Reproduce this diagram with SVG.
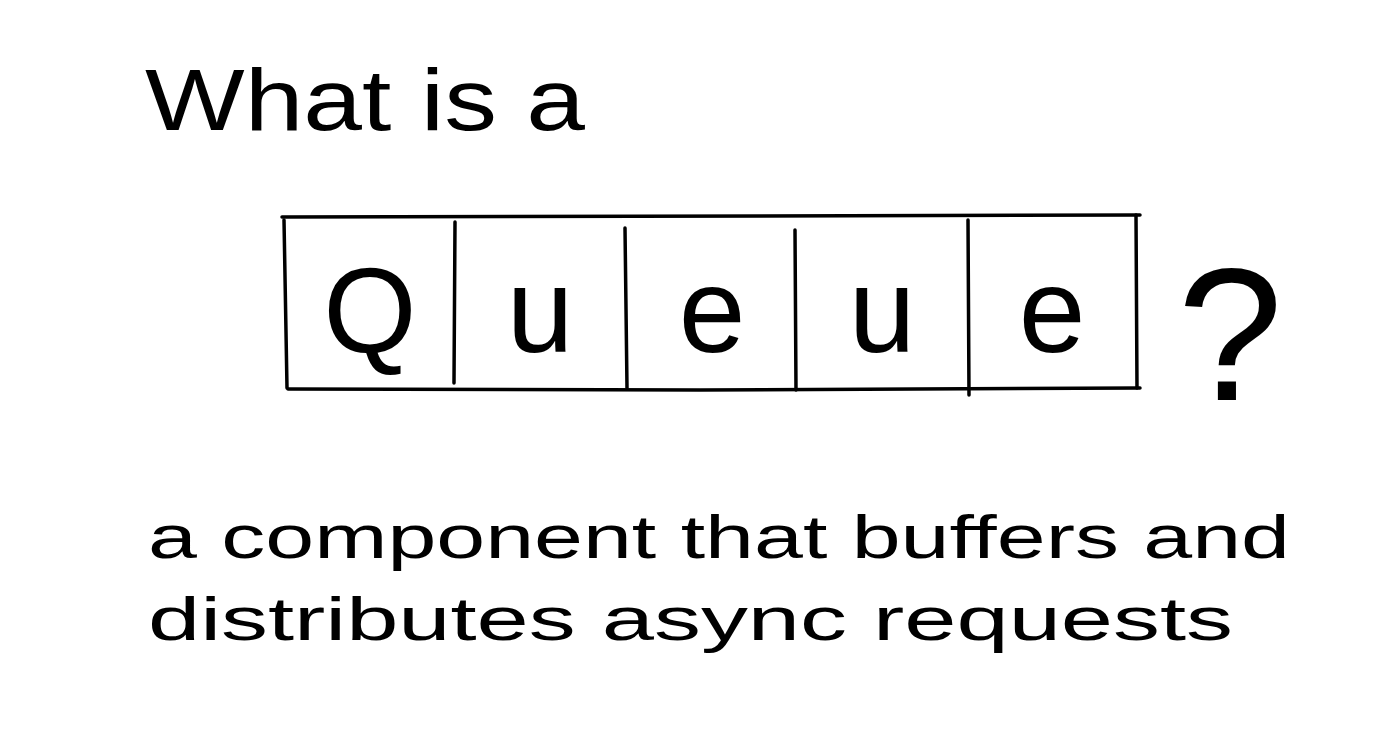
<svg xmlns="http://www.w3.org/2000/svg" width="1400" height="730" viewBox="0 0 1400 730">
<style>
.hand{font-family:"Liberation Sans","DejaVu Sans",sans-serif;fill:#000;}
.line{stroke:#000;stroke-width:3.5;fill:none;stroke-linecap:round;}
.big{font-size:120px;text-anchor:middle;}
</style>
<rect width="1400" height="730" fill="#fff"/>
<g id="title">
<text class="hand" x="145" y="130" font-size="88" textLength="440" lengthAdjust="spacingAndGlyphs">What is a</text>
</g>
<g id="queue-box">
<path class="line" d="M282 217 L1140 215"/>
<path class="line" d="M288 389 L700 390 L1140 388"/>
<path class="line" d="M284 220 L287 388"/>
<path class="line" d="M455 222 L454 383"/>
<path class="line" d="M625 228 L627 388"/>
<path class="line" d="M795 230 L796 390"/>
<path class="line" d="M968 220 L969 395"/>
<path class="line" d="M1136 215 L1137 388"/>
</g>
<g id="letters">
<text class="hand big" x="370" y="352">Q</text>
<text class="hand big" x="540" y="352">u</text>
<text class="hand big" x="712" y="352">e</text>
<text class="hand big" x="882" y="352">u</text>
<text class="hand big" x="1052" y="352">e</text>
</g>
<g id="question">
<text class="hand" x="1230" y="400" font-size="190" text-anchor="middle">?</text>
</g>
<g id="definition">
<text class="hand" x="148" y="558" font-size="62" textLength="1142" lengthAdjust="spacingAndGlyphs">a component that buffers and</text>
<text class="hand" x="148" y="640" font-size="62" textLength="1085" lengthAdjust="spacingAndGlyphs">distributes async requests</text>
</g>
</svg>
